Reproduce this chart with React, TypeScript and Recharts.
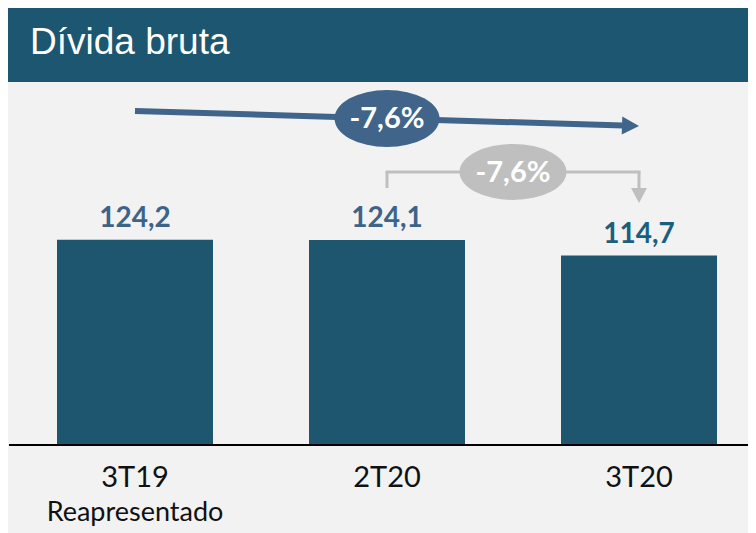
import React from 'react'
import { BarChart, Bar, XAxis, YAxis, LabelList, ReferenceLine } from 'recharts'

const categories = ['3T19', '2T20', '3T20']
const subLabels = ['Reapresentado', '', '']
const values = [124.2, 124.1, 114.7]
const labelColors = ['#3e6389', '#3e6389', '#1b5f7e']

// annotation arrows, in data units
const variationLabel = '-7,6%'
const longArrowFrom = 202.2
const longArrowTo = 193.1
const bracketTop = 165.3
const bracketLeftEnd = 155.6
const bracketRightEnd = 146.5

const data = categories.map((c, i) => ({ name: c, sub: subLabels[i], value: values[i] }))

const fmt = (v: number) => v.toFixed(1).replace('.', ',')

const BadgeText = ({ x, y }: { x: number; y: number }) => (
    <text
        x={x}
        y={y + 10}
        textAnchor="middle"
        fill="#fff"
        fontFamily="Lato"
        fontWeight={700}
        fontSize={29}
    >
        {variationLabel}
    </text>
)

function arrowShape(color: string, width: number, headLen: number, headHalf: number, badge: boolean) {
    return (p: any) => {
        const { x1, y1, x2, y2 } = p
        const dx = x2 - x1
        const dy = y2 - y1
        const len = Math.sqrt(dx * dx + dy * dy)
        const ux = dx / len
        const uy = dy / len
        const bx = x2 - ux * headLen
        const by = y2 - uy * headLen
        const head = `${x2},${y2} ${bx - uy * headHalf},${by + ux * headHalf} ${bx + uy * headHalf},${by - ux * headHalf}`
        const mx = (x1 + x2) / 2
        const my = (y1 + y2) / 2
        return (
            <g>
                <line x1={x1} y1={y1} x2={bx + ux} y2={by + uy} stroke={color} strokeWidth={width} />
                <polygon points={head} fill={color} />
                {badge && (
                    <g>
                        <ellipse cx={mx} cy={my} rx={52.5} ry={28.5} fill="#40648a" />
                        <BadgeText x={mx} y={my} />
                    </g>
                )}
            </g>
        )
    }
}

const grayLine = (p: any) => {
    const { x1, y1, x2, y2 } = p
    const mx = (x1 + x2) / 2
    const my = (y1 + y2) / 2
    return (
        <g>
            <line x1={x1 - 1.5} y1={y1} x2={x2 + 1.5} y2={y2} stroke="#bfbfbf" strokeWidth={3} />
            <ellipse cx={mx} cy={my} rx={53.5} ry={28} fill="#bfbfbf" />
            <BadgeText x={mx} y={my} />
        </g>
    )
}

const CategoryTick = (props: any) => {
    const { x, y, payload, index } = props
    return (
        <g>
            <text x={x} y={y + 42} textAnchor="middle" fill="#111" fontFamily="Lato" fontSize={29}>
                {payload.value}
            </text>
            {subLabels[index] && (
                <text x={x} y={y + 76} textAnchor="middle" fill="#111" fontFamily="Lato" fontSize={27}>
                    {subLabels[index]}
                </text>
            )}
        </g>
    )
}

const ValueLabel = (props: any) => {
    const { x, y, width, value, index } = props
    return (
        <text
            x={x + width / 2}
            y={y - 13}
            textAnchor="middle"
            fill={labelColors[index]}
            fontFamily="Lato"
            fontWeight={700}
            fontSize={28}
        >
            {fmt(value)}
        </text>
    )
}

export default function App() {
    return (
        <div
            style={{
                position: 'relative',
                width: 748,
                height: 525,
                overflow: 'hidden',
                background: '#f2f2f2',
            }}
        >
            <div style={{ position: 'absolute', left: 0, top: 0 }}>
                <BarChart
                    width={758}
                    height={525}
                    data={data}
                    margin={{ top: 24, right: 1, bottom: 0, left: 1 }}
                    barSize={156}
                >
                    <XAxis
                        dataKey="name"
                        axisLine={{ stroke: '#000', strokeWidth: 2 }}
                        tickLine={false}
                        tickSize={0}
                        tickMargin={0}
                        height={88}
                        tick={<CategoryTick />}
                        interval={0}
                    />
                    <YAxis hide domain={[0, 250]} />
                    <Bar dataKey="value" fill="#1e5670" isAnimationActive={false}>
                        <LabelList dataKey="value" content={<ValueLabel />} />
                    </Bar>
                    <ReferenceLine
                        segment={[
                            { x: '3T19', y: longArrowFrom },
                            { x: '3T20', y: longArrowTo },
                        ]}
                        shape={arrowShape('#40648a', 6, 17, 9, true)}
                    />
                    <ReferenceLine
                        segment={[
                            { x: '2T20', y: bracketLeftEnd },
                            { x: '2T20', y: bracketTop },
                        ]}
                        stroke="#bfbfbf"
                        strokeWidth={3}
                    />
                    <ReferenceLine
                        segment={[
                            { x: '3T20', y: bracketTop },
                            { x: '3T20', y: bracketRightEnd },
                        ]}
                        shape={arrowShape('#bfbfbf', 3, 15, 8, false)}
                    />
                    <ReferenceLine
                        segment={[
                            { x: '2T20', y: bracketTop },
                            { x: '3T20', y: bracketTop },
                        ]}
                        shape={grayLine}
                    />
                </BarChart>
            </div>
            <div
                style={{
                    position: 'absolute',
                    left: 0,
                    top: 0,
                    width: 748,
                    height: 74,
                    background: '#1d5670',
                }}
            >
                <span
                    style={{
                        position: 'absolute',
                        left: 22,
                        top: 9,
                        color: '#fff',
                        fontFamily: 'Liberation Sans',
                        fontSize: 37,
                        lineHeight: '50px',
                    }}
                >
                    Dívida bruta
                </span>
            </div>
        </div>
    )
}
